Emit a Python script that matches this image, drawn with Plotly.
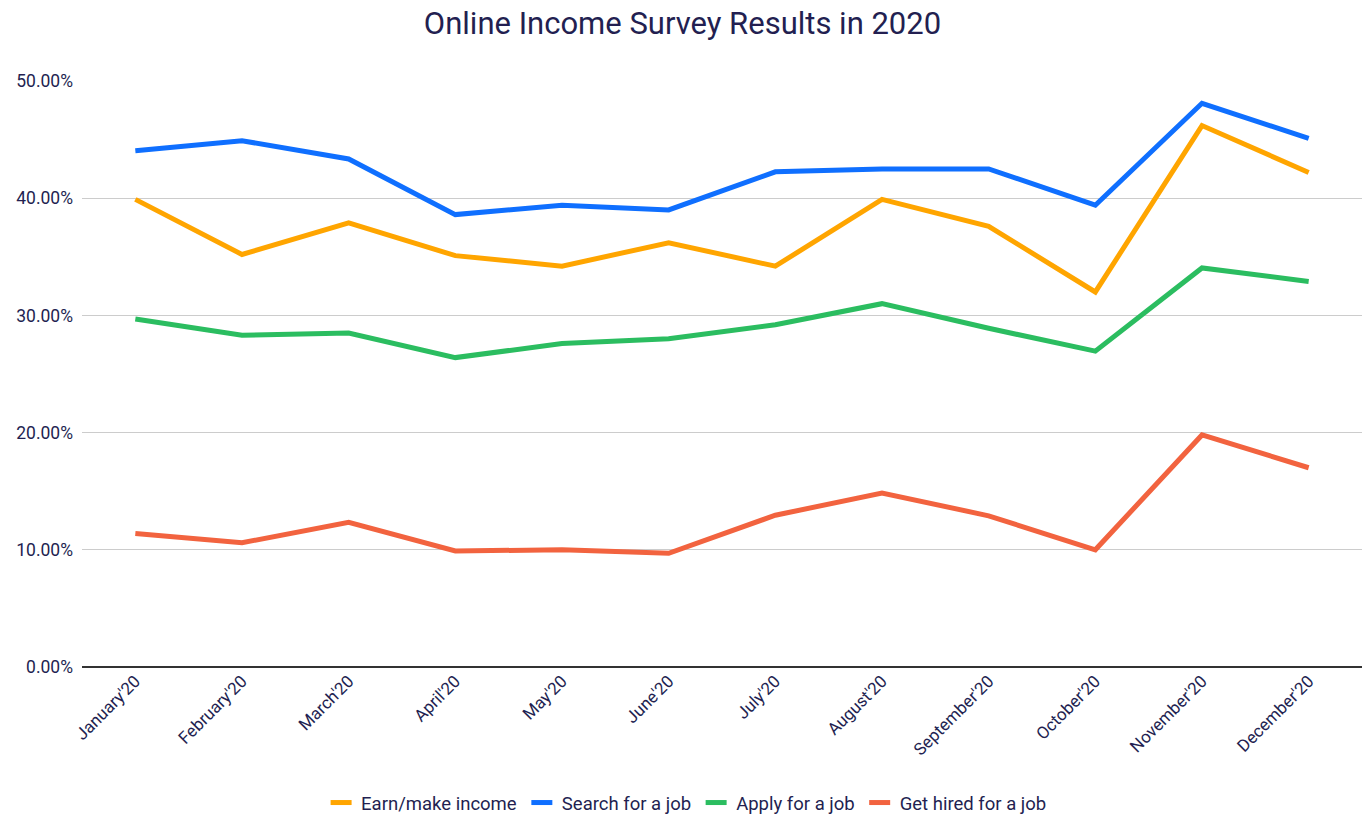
import plotly.graph_objects as go

months = ["January'20", "February'20", "March'20", "April'20", "May'20", "June'20",
          "July'20", "August'20", "September'20", "October'20", "November'20", "December'20"]
earn = [39.9, 35.2, 37.9, 35.1, 34.2, 36.2, 34.2, 39.9, 37.6, 32.0, 46.2, 42.2]
search = [44.05, 44.9, 43.35, 38.6, 39.4, 39.0, 42.25, 42.5, 42.5, 39.4, 48.1, 45.1]
apply_ = [29.7, 28.3, 28.5, 26.4, 27.6, 28.0, 29.2, 31.0, 28.9, 26.95, 34.05, 32.9]
hired = [11.4, 10.6, 12.35, 9.9, 10.0, 9.7, 12.95, 14.85, 12.9, 10.0, 19.8, 17.0]

series = [
    ("Earn/make income", earn, "#FFA500"),
    ("Search for a job", search, "#0F6FFF"),
    ("Apply for a job", apply_, "#2BBD60"),
    ("Get hired for a job", hired, "#F2633F"),
]
text_color = "#231F51"

fig = go.Figure()
for name, vals, col in series:
    fig.add_trace(go.Scatter(x=months, y=[v / 100 for v in vals], name=name, mode="lines",
                             line=dict(color=col, width=5), showlegend=False))
for name, vals, col in series:
    fig.add_trace(go.Scatter(x=[None], y=[None], name=name, mode="markers",
                             marker=dict(symbol="line-ew", size=15,
                                         line=dict(color=col, width=6))))

fig.update_layout(
    width=1365, height=814,
    paper_bgcolor="white", plot_bgcolor="white",
    font=dict(family="Roboto", color=text_color, size=17),
    title=dict(text="Online Income Survey Results in 2020", x=0.5, xanchor="center",
               y=0.9718, yanchor="middle", font=dict(size=31, color=text_color)),
    margin=dict(l=82, r=3, t=81, b=147),
    legend=dict(orientation="h", xref="container", yref="container",
                x=0.503, xanchor="center", y=0.0135, yanchor="middle",
                font=dict(size=18.5, color=text_color), itemwidth=30),
    xaxis=dict(tickangle=-45, showgrid=False, ticks="", tickfont=dict(size=17),
               range=[-0.5, 11.5], automargin=False),
    yaxis=dict(range=[0, 0.5], tickformat=".2%", dtick=0.1, gridcolor="#CCCCCC",
               zeroline=True, zerolinecolor="#333333", zerolinewidth=1.5,
               ticks="", tickfont=dict(size=17.5), ticklabelstandoff=8, automargin=False),
)
fig.write_html("out.html", config={"displayModeBar": False},
               post_script="document.body.style.margin='0';document.body.style.overflow='hidden';")
